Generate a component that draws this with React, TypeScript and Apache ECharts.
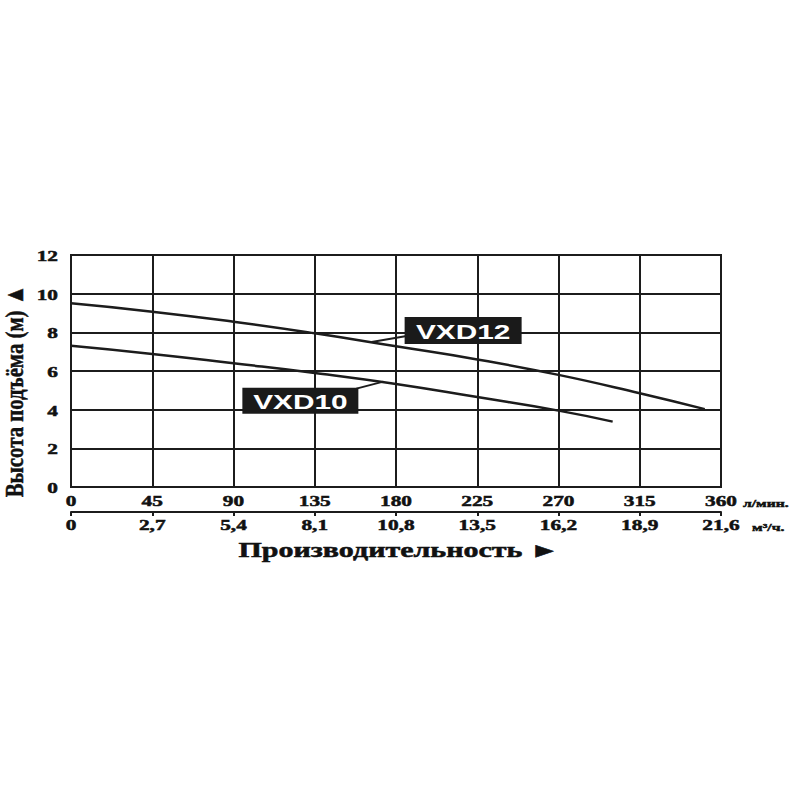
import React, { useEffect, useRef } from "react";
import * as echarts from "echarts";

const flowLpm = [0, 45, 90, 135, 180, 225, 270, 315, 360];
const flowM3h = [0, 2.7, 5.4, 8.1, 10.8, 13.5, 16.2, 18.9, 21.6];
const headTicks = [0, 2, 4, 6, 8, 10, 12];

const vxd12Flow = [0, 45, 90, 135, 180, 225, 270, 315, 351];
const vxd12Head = [9.5, 9.07, 8.55, 7.95, 7.28, 6.6, 5.8, 4.85, 4.03];
const vxd10Flow = [0, 45, 90, 135, 180, 225, 270, 300];
const vxd10Head = [7.3, 6.88, 6.4, 5.9, 5.33, 4.65, 3.95, 3.38];

const seriesNames = ["VXD12", "VXD10"];
const unitLpm = "л/мин.";
const unitM3h = "м³/ч.";
const xTitle = "Производительность ►";
const yTitle = "Высота подъёма (м) ▲";
// label anchors on curves (flow, head)
const anchor12 = [166.5, 7.5];
const anchor10 = [173, 5.45];

const SERIF = "'Liberation Serif', 'Times New Roman', serif";
const SANS = "'Liberation Sans', Arial, sans-serif";
const INK = "#1c1c1c";
const STRETCH = 1.42;

export default function App() {
  const ref = useRef<HTMLDivElement>(null);
  useEffect(() => {
    document.body.style.margin = "0";
    const chart = echarts.init(ref.current!, null, { renderer: "svg" });
    const fmt = (v: number) => (v === 0 ? "0" : v.toFixed(1).replace(".", ","));
    chart.setOption({
      animation: false,
      backgroundColor: "#fff",
      grid: {
        left: 71,
        top: 255,
        width: 650,
        height: 232,
        show: true,
        borderColor: INK,
        borderWidth: 2,
      },
      xAxis: [
        {
          type: "value",
          min: flowLpm[0],
          max: flowLpm[flowLpm.length - 1],
          interval: 45,
          position: "bottom",
          axisLine: { show: true, lineStyle: { color: INK, width: 2 } },
          axisTick: { show: false },
          splitLine: { show: true, lineStyle: { color: INK, width: 2 } },
          axisLabel: { show: false },
        },
        {
          type: "value",
          min: flowM3h[0],
          max: flowM3h[flowM3h.length - 1],
          interval: 2.7,
          position: "bottom",
          offset: 25,
          axisLine: { show: true, lineStyle: { color: INK, width: 2 } },
          axisTick: { show: true, length: 4, lineStyle: { color: INK, width: 2 } },
          splitLine: { show: false },
          axisLabel: { show: false },
        },
      ],
      yAxis: {
        type: "value",
        min: headTicks[0],
        max: headTicks[headTicks.length - 1],
        interval: 2,
        axisLine: { show: true, lineStyle: { color: INK, width: 2 } },
        axisTick: { show: false },
        splitLine: { show: true, lineStyle: { color: INK, width: 2 } },
        axisLabel: { show: false },
      },
      series: [
        {
          name: seriesNames[0],
          type: "line",
          xAxisIndex: 0,
          smooth: true,
          symbol: "none",
          lineStyle: { color: INK, width: 2.5 },
          data: vxd12Flow.map((f, i) => [f, vxd12Head[i]]),
        },
        {
          name: seriesNames[1],
          type: "line",
          xAxisIndex: 0,
          smooth: true,
          symbol: "none",
          lineStyle: { color: INK, width: 2.5 },
          data: vxd10Flow.map((f, i) => [f, vxd10Head[i]]),
        },
      ],
    });

    const toPx = (x: number, y: number, xi = 0) =>
      chart.convertToPixel({ xAxisIndex: xi, yAxisIndex: 0 }, [x, y]) as number[];

    const label = (
      text: string,
      x: number,
      y: number,
      size: number,
      align: string,
      font = SERIF,
      fill = "#111",
      extra: any = {}
    ) => ({
      type: "text",
      x,
      y,
      scaleX: STRETCH,
      z: 11,
      style: {
        text,
        fill,
        font: `bold ${size}px ${font}`,
        align,
        verticalAlign: "middle",
        stroke: font === SERIF ? fill : undefined,
        lineWidth: font === SERIF ? 0.5 : 0,
      },
      ...extra,
    });

    const g: any[] = [];
    headTicks.forEach((v) => {
      const p = toPx(0, v);
      g.push(label(String(v), 58, p[1] + 1, 15, "right"));
    });
    flowLpm.forEach((v) => {
      const p = toPx(v, 0, 0);
      g.push(label(String(v), p[0], 501, 15, "center"));
    });
    flowM3h.forEach((v) => {
      const p = toPx(v, 0, 1);
      g.push(label(fmt(v), p[0], 525, 15, "center"));
    });
    g.push(label(unitLpm, 743, 503, 11, "left"));
    g.push(label(unitM3h, 752, 527, 11, "left"));
    g.push(label(xTitle, 399, 550, 20, "center", SERIF, "#111", { scaleX: 1.5 }));
    g.push({
      type: "text",
      x: 14,
      y: 391,
      rotation: Math.PI / 2,
      scaleX: 0.8,
      style: {
        text: yTitle,
        fill: "#111",
        font: `bold 26px ${SERIF}`,
        align: "center",
        verticalAlign: "middle",
        stroke: "#111",
        lineWidth: 0.5,
      },
    });

    const p12 = toPx(anchor12[0], anchor12[1]);
    const p10 = toPx(anchor10[0], anchor10[1]);
    const box12 = { x: p12[0] + 33, y: p12[1] - 25, w: 117, h: 27 };
    const box10 = { x: p10[0] - 141, y: p10[1] + 6, w: 116, h: 26 };

    g.push(
      {
        type: "line",
        shape: { x1: p12[0], y1: p12[1], x2: box12.x + 2, y2: box12.y + 19 },
        style: { stroke: INK, lineWidth: 2 },
        z: 10,
      },
      {
        type: "rect",
        shape: { x: box12.x, y: box12.y, width: box12.w, height: box12.h },
        style: { fill: "#1a1a1a" },
        z: 10,
      },
      label(seriesNames[0], box12.x + box12.w / 2, box12.y + box12.h / 2 + 1, 21, "center", SANS, "#fff"),
      {
        type: "line",
        shape: { x1: p10[0], y1: p10[1], x2: box10.x + box10.w - 2, y2: box10.y + 1 },
        style: { stroke: INK, lineWidth: 2 },
        z: 10,
      },
      {
        type: "rect",
        shape: { x: box10.x, y: box10.y, width: box10.w, height: box10.h },
        style: { fill: "#1a1a1a" },
        z: 10,
      },
      label(seriesNames[1], box10.x + box10.w / 2, box10.y + box10.h / 2 + 1, 21, "center", SANS, "#fff")
    );

    chart.setOption({ graphic: g });
    return () => chart.dispose();
  }, []);
  return <div ref={ref} style={{ width: 800, height: 800 }} />;
}
